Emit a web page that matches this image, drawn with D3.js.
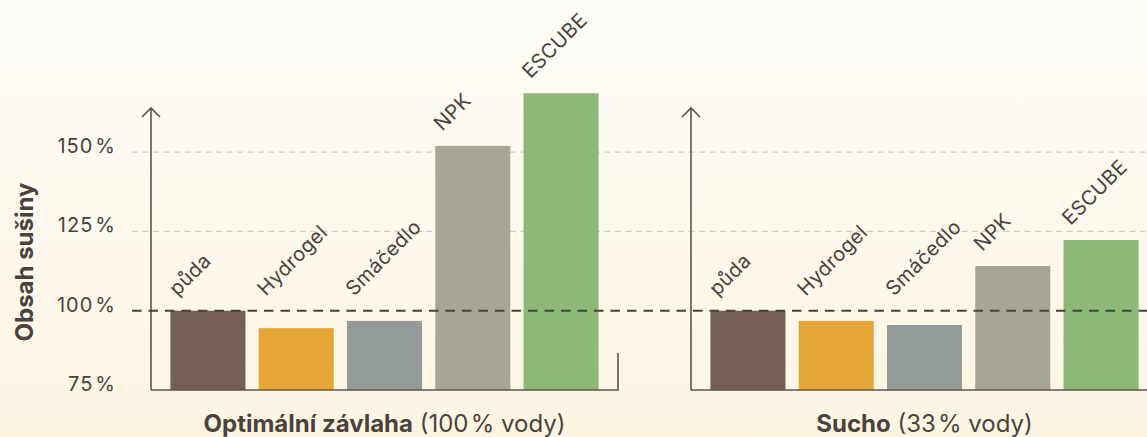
<!DOCTYPE html>
<html>
<head>
<meta charset="utf-8">
<script src="https://cdn.jsdelivr.net/npm/d3@7"></script>
<style>
  body { margin: 0; overflow: hidden; }
  svg { display: block; font-family: Inter, "Open Sans", "DejaVu Sans", sans-serif; }
</style>
</head>
<body>
<div id="chart-container"></div>
<script>
// Data
const categories = ["půda", "Hydrogel", "Smáčedlo", "NPK", "ESCUBE"];
const optimalValues = [100, 94.5, 96.8, 152, 168.6];
const droughtValues = [100, 96.8, 95.5, 114.1, 122.3];
const yTicks = [75, 100, 125, 150];
const panelBold = ["Optimální závlaha", "Sucho"];
const panelNormal = [" (100\u200a% vody)", " (33\u200a% vody)"];
const barColors = ["#735f56", "#e5a537", "#939b99", "#a7a595", "#8db878"];

const width = 1147,
  height = 437;
const textColor = "#4a423d";
const axisColor = "#5d544e";

const svg = d3
  .select("#chart-container")
  .append("svg")
  .attr("width", width)
  .attr("height", height);

// Fundo em degradê
const grad = svg
  .append("defs")
  .append("linearGradient")
  .attr("id", "bg")
  .attr("x1", 0)
  .attr("y1", 0)
  .attr("x2", 0)
  .attr("y2", 1);
grad.append("stop").attr("offset", "0%").attr("stop-color", "#fdfcf8");
grad.append("stop").attr("offset", "100%").attr("stop-color", "#fdf5e2");
svg
  .append("rect")
  .attr("width", width)
  .attr("height", height)
  .attr("fill", "url(#bg)");

const y = d3.scaleLinear().domain([75, 150]).range([390, 152.2]);

const panelWidth = 467;
const x = d3
  .scaleBand()
  .domain(categories)
  .range([0, panelWidth])
  .paddingInner(0.15)
  .paddingOuter(0.22);

const panels = [
  { left: 151, values: optimalValues },
  { left: 691, values: droughtValues },
];

// Linhas de grade (125 %, 150 %)
svg
  .selectAll("line.grid")
  .data(yTicks.filter((t) => t > 100))
  .enter()
  .append("line")
  .attr("class", "grid")
  .attr("x1", 132)
  .attr("x2", width)
  .attr("y1", (d) => y(d))
  .attr("y2", (d) => y(d))
  .attr("stroke", "#d3cec6")
  .attr("stroke-width", 1.3)
  .attr("stroke-dasharray", "6,4.5");

// Rótulos do eixo Y
const ticks = svg
  .selectAll("text.ytick")
  .data(yTicks)
  .enter()
  .append("text")
  .attr("class", "ytick")
  .attr("x", 116)
  .attr("y", (d) => y(d) + 1)
  .attr("text-anchor", "end")
  .attr("font-size", "20px")
  .attr("letter-spacing", "1px")
  .attr("fill", textColor);
ticks.append("tspan").text((d) => d);
ticks.append("tspan").attr("dx", 2).text("%");

// Título do eixo Y
svg
  .append("text")
  .attr("transform", "translate(33, 262) rotate(-90)")
  .attr("text-anchor", "middle")
  .attr("font-size", "24px")
  .attr("font-weight", "700")
  .attr("fill", textColor)
  .text("Obsah sušiny");

panels.forEach((panel, p) => {
  const g = svg.append("g").attr("transform", `translate(${panel.left},0)`);
  const rows = categories.map((c, i) => ({ cat: c, value: panel.values[i], color: barColors[i] }));

  // Barras
  g.selectAll("rect.bar")
    .data(rows)
    .enter()
    .append("rect")
    .attr("class", "bar")
    .attr("x", (d) => x(d.cat))
    .attr("width", x.bandwidth())
    .attr("y", (d) => y(d.value))
    .attr("height", (d) => y(75) - y(d.value))
    .attr("fill", (d) => d.color);

  // Rótulos inclinados
  g.selectAll("text.cat")
    .data(rows)
    .enter()
    .append("text")
    .attr("class", "cat")
    .attr(
      "transform",
      (d) => `translate(${x(d.cat) + 7}, ${Math.min(y(d.value), y(100)) - 14}) rotate(-45)`
    )
    .attr("font-size", "20px")
    .attr("letter-spacing", "0.4px")
    .attr("fill", textColor)
    .text((d) => d.cat);

  // Eixo X com pequeno traço no final
  g.append("path")
    .attr("d", `M0,${y(75)}H${panelWidth}V${y(75) - 37}`)
    .attr("fill", "none")
    .attr("stroke", axisColor)
    .attr("stroke-width", 1.6);

  // Eixo Y com seta
  const top = 108;
  g.append("path")
    .attr("d", `M0,${y(75)}V${top}M-9,${top + 9}L0,${top}L9,${top + 9}`)
    .attr("fill", "none")
    .attr("stroke", axisColor)
    .attr("stroke-width", 1.6);

  // Título do painel
  const title = g
    .append("text")
    .attr("x", panelWidth / 2)
    .attr("y", 432)
    .attr("text-anchor", "middle")
    .attr("font-size", "24px")
    .attr("fill", textColor);
  title.append("tspan").attr("font-weight", "700").text(panelBold[p]);
  title.append("tspan").text(panelNormal[p]);
});

// Linha de referência 100 %
svg
  .append("line")
  .attr("x1", 132)
  .attr("x2", width)
  .attr("y1", y(100))
  .attr("y2", y(100))
  .attr("stroke", "#48413c")
  .attr("stroke-width", 2.2)
  .attr("stroke-dasharray", "9.5,7");
</script>
</body>
</html>
